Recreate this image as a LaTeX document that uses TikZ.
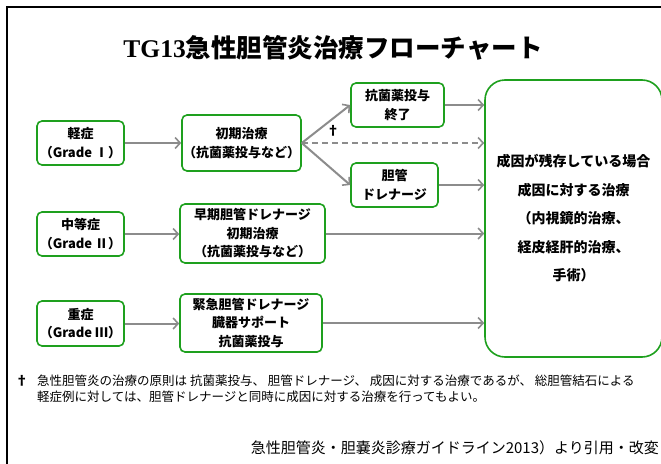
\documentclass[tikz,border=0pt]{standalone}
\usepackage{fontspec}
\setmainfont{Noto Sans CJK JP}
\newfontfamily\jp{Noto Sans CJK JP}
\newfontfamily\titlelatin{Liberation Serif}
\usetikzlibrary{arrows.meta}
\definecolor{boxgreen}{RGB}{30,160,30}
\definecolor{arrgray}{RGB}{140,140,140}
\tikzset{
  box/.style={draw=boxgreen, line width=1.6pt, rounded corners=5pt, align=center,
    inner sep=0pt, font=\jp\bfseries\fontsize{13}{18.5}\selectfont},
  bigbox/.style={draw=boxgreen, line width=1.6pt, rounded corners=20pt, align=center,
    inner sep=0pt, font=\jp\bfseries\fontsize{14}{28.5}\selectfont},
  arr/.style={draw=arrgray, line width=2pt, -{Straight Barb[length=5pt,width=11pt,line width=1.6pt]}},
  dasharr/.style={arr, dash pattern=on 6pt off 4pt},
}
\begin{document}
\begin{tikzpicture}[x=1pt,y=-1pt]
\clip (0,0) rectangle (661,463);
\fill[white] (0,0) rectangle (661,463);
% frame
\draw[line width=1.5pt] (7,470) -- (7,7) -- (670,7);
% title
\node (title) at (333,48) {\fontsize{25.5}{30}\selectfont\titlelatin\bfseries TG13\jp\bfseries 急性胆管炎治療フローチャート};
% grades
\node[box, minimum width=87pt, minimum height=44pt] (g1) at (80.5,143) {軽症\\（Grade Ⅰ）};
\node[box, minimum width=87pt, minimum height=44pt] (g2) at (80.5,234) {中等症\\（Grade Ⅱ）};
\node[box, minimum width=87pt, minimum height=45pt] (g3) at (80.5,323.5) {重症\\（Grade Ⅲ）};
% treatments
\node[box, minimum width=119pt, minimum height=56pt] (t1) at (241.5,143) {初期治療\\（抗菌薬投与など）};
\node[box, minimum width=145pt, minimum height=59pt] (t2) at (252.5,233.5) {早期胆管ドレナージ\\初期治療\\（抗菌薬投与など）};
\node[box, minimum width=142pt, minimum height=58pt] (t3) at (251,323) {緊急胆管ドレナージ\\臓器サポート\\抗菌薬投与};
% branches
\node[box, minimum width=93pt, minimum height=44pt] (e1) at (397.5,105) {抗菌薬投与\\終了};
\node[box, minimum width=87pt, minimum height=44pt] (d1) at (394.5,185) {胆管\\ドレナージ};
% big box
\node[bigbox, minimum width=177pt, minimum height=277pt] (big) at (573.5,218.5) {成因が残存している場合\\成因に対する治療\\（内視鏡的治療、\\経皮経肝的治療、\\手術）};
% arrows
\draw[arr] (g1.east) -- (t1.west);
\draw[arr] (g2.east) -- (g2.east -| t2.west);
\draw[arr] (g3.east) -- (g3.east -| t3.west);
\draw[arr] (t1.east) -- (e1.west);
\draw[arr] (t1.east) -- (d1.west);
\draw[dasharr] (t1.east) -- (t1.east -| big.west);
\draw[arr] (e1.east) -- (e1.east -| big.west);
\draw[arr] (d1.east) -- (d1.east -| big.west);
\draw[arr] (t2.east) -- (t2.east -| big.west);
\draw[arr] (t3.east) -- (t3.east -| big.west);
\node[font=\jp\bfseries\fontsize{13}{15}\selectfont] (dag) at (333,131) {†};
% footnote
\node[font=\jp\bfseries\fontsize{13}{15}\selectfont] (fdag) at (22,381) {†};
\node[anchor=west, inner sep=0pt, font=\jp\fontsize{12.5}{15}\selectfont] (f1) at (37,381) {急性胆管炎の治療の原則は 抗菌薬投与、 胆管ドレナージ、 成因に対する治療であるが、 総胆管結石による};
\node[anchor=west, inner sep=0pt, font=\jp\fontsize{12.5}{15}\selectfont] (f2) at (37,397) {軽症例に対しては、胆管ドレナージと同時に成因に対する治療を行ってもよい。};
% citation
\node[anchor=east, inner sep=0pt, font=\jp\fontsize{15}{18}\selectfont] (cite) at (659,448) {急性胆管炎・胆嚢炎診療ガイドライン2013）より引用・改変};
\end{tikzpicture}
\end{document}
